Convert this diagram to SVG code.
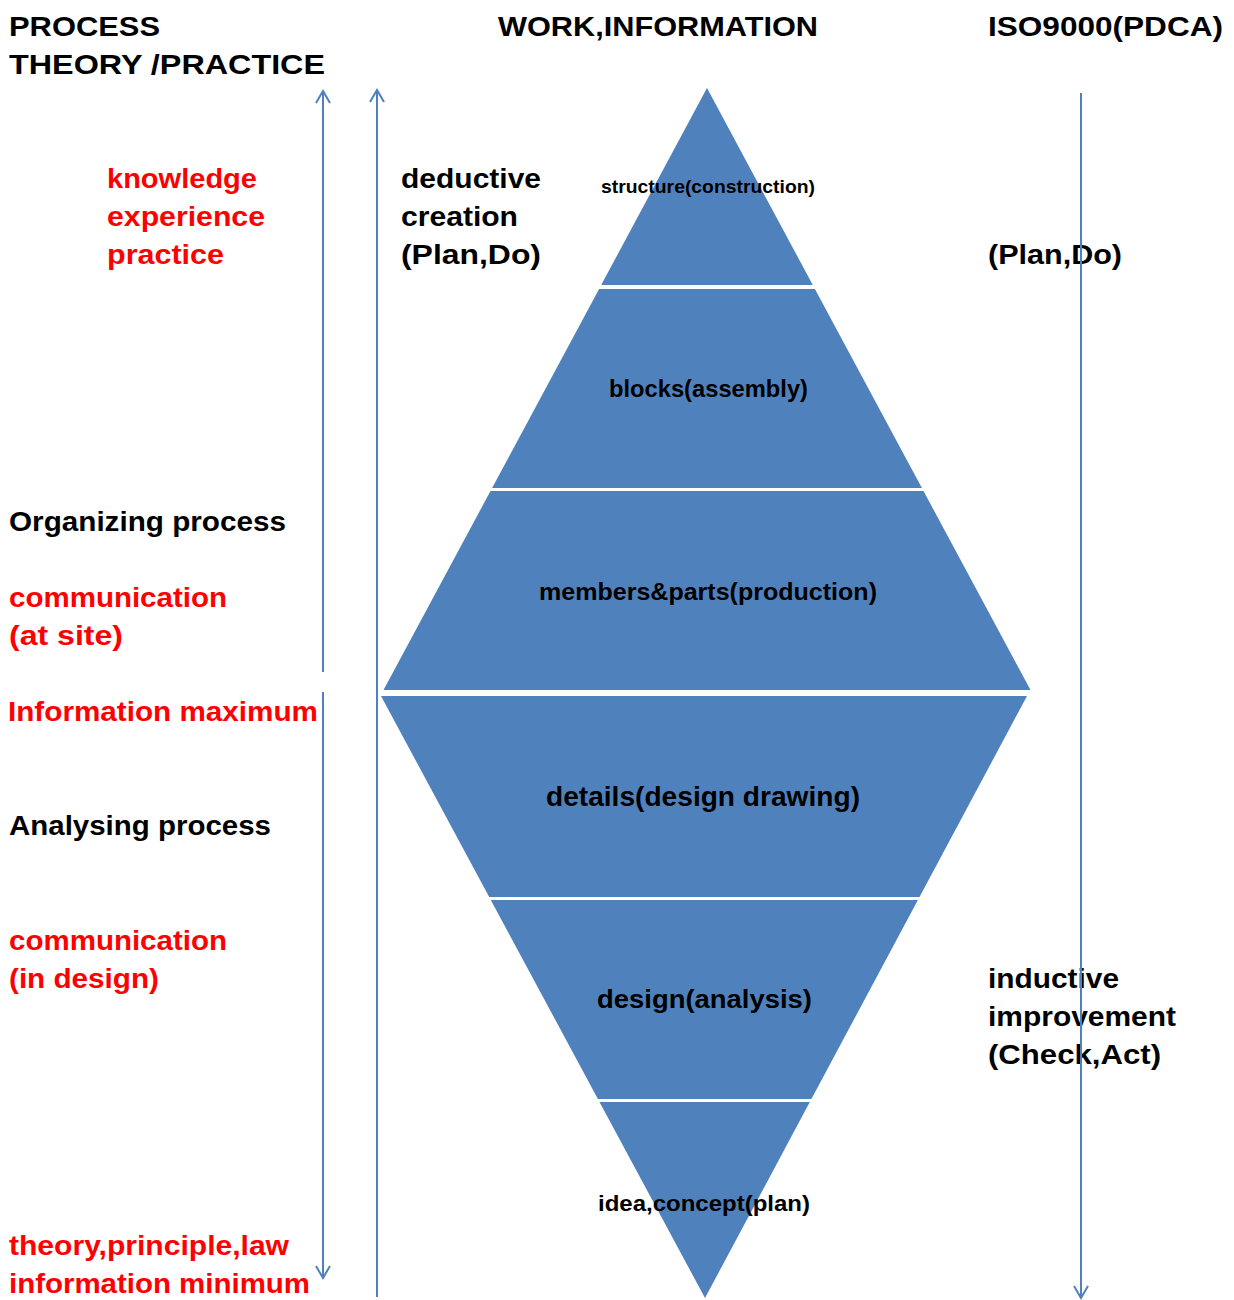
<svg xmlns="http://www.w3.org/2000/svg" width="1234" height="1300" viewBox="0 0 1234 1300">
  <style>
    .hdr { font-family: "Liberation Sans", Arial, sans-serif; font-size: 28px; font-weight: bold; fill: #000; }
    .lbl { font-family: "Liberation Sans", Arial, sans-serif; font-size: 27px; font-weight: bold; fill: #000; }
    .red { fill: #ff0000; }
    .seg { fill: #4f81bd; }
    .nl { font-family: "Liberation Sans", Arial, sans-serif; font-weight: bold; fill: #000; }
    .ax { stroke: #4f81bd; stroke-width: 2; fill: none; }
  </style>
  <defs>
    <marker id="vhead" markerUnits="userSpaceOnUse" viewBox="-14 -9 16 18" refX="0" refY="0" markerWidth="16" markerHeight="18" orient="auto">
      <path d="M -12 -7 L 0 0 L -12 7" fill="none" stroke="#4f81bd" stroke-width="2"/>
    </marker>
  </defs>

  <rect x="0" y="0" width="1234" height="1300" fill="#ffffff"/>

  <!-- column headings -->
  <g id="headings">
    <text class="hdr" x="9" y="36" textLength="151" lengthAdjust="spacingAndGlyphs">PROCESS</text>
    <text class="hdr" x="9" y="74" textLength="316" lengthAdjust="spacingAndGlyphs">THEORY /PRACTICE</text>
    <text class="hdr" x="498" y="36" textLength="320" lengthAdjust="spacingAndGlyphs">WORK,INFORMATION</text>
    <text class="hdr" x="988" y="36" textLength="235" lengthAdjust="spacingAndGlyphs">ISO9000(PDCA)</text>
  </g>

  <!-- left-hand process notes -->
  <g id="process-notes">
    <text class="lbl red" x="107" y="188" textLength="150" lengthAdjust="spacingAndGlyphs">knowledge</text>
    <text class="lbl red" x="107" y="226" textLength="158" lengthAdjust="spacingAndGlyphs">experience</text>
    <text class="lbl red" x="107" y="264" textLength="117" lengthAdjust="spacingAndGlyphs">practice</text>
    <text class="lbl" x="9" y="531" textLength="277" lengthAdjust="spacingAndGlyphs">Organizing process</text>
    <text class="lbl red" x="9" y="607" textLength="218" lengthAdjust="spacingAndGlyphs">communication</text>
    <text class="lbl red" x="9" y="645" textLength="114" lengthAdjust="spacingAndGlyphs">(at site)</text>
    <text class="lbl red" x="8" y="721" textLength="310" lengthAdjust="spacingAndGlyphs">Information maximum</text>
    <text class="lbl" x="9" y="835" textLength="262" lengthAdjust="spacingAndGlyphs">Analysing process</text>
    <text class="lbl red" x="9" y="950" textLength="218" lengthAdjust="spacingAndGlyphs">communication</text>
    <text class="lbl red" x="9" y="988" textLength="150" lengthAdjust="spacingAndGlyphs">(in design)</text>
    <text class="lbl red" x="9" y="1255" textLength="280" lengthAdjust="spacingAndGlyphs">theory,principle,law</text>
    <text class="lbl red" x="9" y="1293" textLength="301" lengthAdjust="spacingAndGlyphs">information minimum</text>
  </g>

  <!-- deductive / inductive notes -->
  <g id="pdca-notes">
    <text class="lbl" x="401" y="188" textLength="140" lengthAdjust="spacingAndGlyphs">deductive</text>
    <text class="lbl" x="401" y="226" textLength="117" lengthAdjust="spacingAndGlyphs">creation</text>
    <text class="lbl" x="401" y="264" textLength="140" lengthAdjust="spacingAndGlyphs">(Plan,Do)</text>
    <text class="lbl" x="988" y="264" textLength="134" lengthAdjust="spacingAndGlyphs">(Plan,Do)</text>
    <text class="lbl" x="988" y="988" textLength="131" lengthAdjust="spacingAndGlyphs">inductive</text>
    <text class="lbl" x="988" y="1026" textLength="188" lengthAdjust="spacingAndGlyphs">improvement</text>
    <text class="lbl" x="988" y="1064" textLength="173" lengthAdjust="spacingAndGlyphs">(Check,Act)</text>
  </g>

  <!-- upper pyramid -->
  <g id="structure">
    <polygon class="seg" points="707,88 812.8,285 601.2,285"/>
    <text class="nl" x="601" y="193" font-size="19" textLength="214" lengthAdjust="spacingAndGlyphs">structure(construction)</text>
  </g>
  <g id="blocks">
    <polygon class="seg" points="599.1,289 814.9,289 921.9,488 492.1,488"/>
    <text class="nl" x="609" y="397" font-size="24" textLength="199" lengthAdjust="spacingAndGlyphs">blocks(assembly)</text>
  </g>
  <g id="members-parts">
    <polygon class="seg" points="490.5,491 923.5,491 1030.5,690 383.5,690"/>
    <text class="nl" x="539" y="600" font-size="24" textLength="338" lengthAdjust="spacingAndGlyphs">members&amp;parts(production)</text>
  </g>

  <!-- lower inverted pyramid -->
  <g id="details">
    <polygon class="seg" points="381,696 1027,696 919.5,897 489.2,897"/>
    <text class="nl" x="546" y="806" font-size="27" textLength="314" lengthAdjust="spacingAndGlyphs">details(design drawing)</text>
  </g>
  <g id="design">
    <polygon class="seg" points="490.8,900 917.9,900 811.4,1099 597.9,1099"/>
    <text class="nl" x="597" y="1008" font-size="26" textLength="215" lengthAdjust="spacingAndGlyphs">design(analysis)</text>
  </g>
  <g id="idea-concept">
    <polygon class="seg" points="599.5,1102 809.8,1102 705,1298"/>
    <text class="nl" x="598" y="1211" font-size="22" textLength="212" lengthAdjust="spacingAndGlyphs">idea,concept(plan)</text>
  </g>

  <!-- axis arrows -->
  <g id="connectors">
    <line class="ax" x1="323" y1="672" x2="323" y2="91" marker-end="url(#vhead)"/>
    <line class="ax" x1="323" y1="692" x2="323" y2="1278" marker-end="url(#vhead)"/>
    <line class="ax" x1="377" y1="1297" x2="377" y2="90" marker-end="url(#vhead)"/>
    <line class="ax" x1="1081" y1="93" x2="1081" y2="1298" marker-end="url(#vhead)"/>
  </g>
</svg>
